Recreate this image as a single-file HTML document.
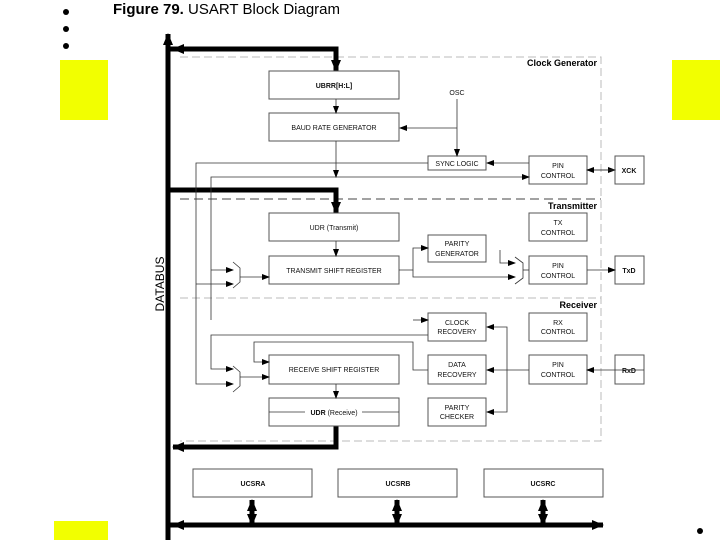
<!DOCTYPE html>
<html><head><style>body{margin:0;background:#fff}svg{display:block}text{font-family:"Liberation Sans",sans-serif}</style></head><body>
<svg width="720" height="540" viewBox="0 0 720 540" xmlns="http://www.w3.org/2000/svg">
<defs>
<marker id="a" markerWidth="8" markerHeight="8" refX="7" refY="4" orient="auto" markerUnits="userSpaceOnUse"><path d="M0,1 L8,4 L0,7z" fill="#000"/></marker>
<marker id="b" markerWidth="12" markerHeight="12" refX="11" refY="6" orient="auto" markerUnits="userSpaceOnUse"><path d="M0,1 L12,6 L0,11z" fill="#000"/></marker>
</defs>
<circle cx="66" cy="12" r="3"/><circle cx="66" cy="29" r="3"/><circle cx="66" cy="46" r="3"/><circle cx="700" cy="531" r="3"/>
<rect x="60" y="60" width="48" height="60" fill="#f2ff00"/>
<rect x="672" y="60" width="48" height="60" fill="#f2ff00"/>
<rect x="54" y="521" width="54" height="19" fill="#f2ff00"/>
<text x="113" y="14" font-size="15"><tspan font-weight="bold">Figure 79.</tspan>  USART Block Diagram</text>

<g stroke="#bbb" stroke-dasharray="8,4" fill="none">
<path d="M180,57 H601 V441 H180"/>
<path d="M180,298 H601"/>
</g>
<path d="M180,199 H601" stroke="#444" stroke-dasharray="9,5" fill="none"/>
<g font-weight="bold" font-size="9" text-anchor="end"><text x="597" y="66">Clock Generator</text><text x="597" y="209">Transmitter</text><text x="597" y="308">Receiver</text></g>

<g fill="none" stroke="#000" stroke-width="5">
<path d="M168,540 V34" marker-end="url(#b)"/>
<path d="M336,49 H173" marker-end="url(#b)"/>
<path d="M168,49 H336 V71" marker-end="url(#b)"/>
<path d="M168,190 H336 V213" marker-end="url(#b)"/>
<path d="M336,426 V447 H173" marker-end="url(#b)"/>
<path d="M168,525 H603" marker-end="url(#b)"/>
<path d="M400,525 H173" marker-end="url(#b)"/>
<path d="M252,525 V500" marker-end="url(#b)"/><path d="M252,500 V525" marker-end="url(#b)"/>
<path d="M397,525 V500" marker-end="url(#b)"/><path d="M397,500 V525" marker-end="url(#b)"/>
<path d="M543,525 V500" marker-end="url(#b)"/><path d="M543,500 V525" marker-end="url(#b)"/>
</g>
<text transform="translate(164,284) rotate(-90)" font-size="12" text-anchor="middle">DATABUS</text>

<g fill="#fff" stroke="#555" stroke-width="1">
<rect x="269" y="71" width="130" height="28"/>
<rect x="269" y="113" width="130" height="28"/>
<rect x="428" y="156" width="58" height="14"/>
<rect x="529" y="156" width="58" height="28"/>
<rect x="615" y="156" width="29" height="28"/>
<rect x="269" y="213" width="130" height="28"/>
<rect x="269" y="256" width="130" height="28"/>
<rect x="529" y="213" width="58" height="28"/>
<rect x="428" y="235" width="58" height="27"/>
<rect x="529" y="256" width="58" height="28"/>
<rect x="615" y="256" width="29" height="28"/>
<rect x="428" y="313" width="58" height="28"/>
<rect x="529" y="313" width="58" height="28"/>
<rect x="269" y="355" width="130" height="29"/>
<rect x="428" y="355" width="58" height="29"/>
<rect x="529" y="355" width="58" height="29"/>
<rect x="615" y="355" width="29" height="29"/>
<rect x="269" y="398" width="130" height="28"/>
<rect x="428" y="398" width="58" height="28"/>
<rect x="193" y="469" width="119" height="28"/>
<rect x="338" y="469" width="119" height="28"/>
<rect x="484" y="469" width="119" height="28"/>
</g>

<g fill="none" stroke="#333" stroke-width="0.8">
<path d="M336,99 V113" marker-end="url(#a)"/>
<path d="M457,99 V156" marker-end="url(#a)"/>
<path d="M457,128 H400" marker-end="url(#a)"/>
<path d="M529,163 H487" marker-end="url(#a)"/>
<path d="M428,163 H196 V384 H233" marker-end="url(#a)"/>
<path d="M196,284 H233" marker-end="url(#a)"/>
<path d="M211,320 V177 H529" marker-end="url(#a)"/>
<path d="M211,270 H233" marker-end="url(#a)"/>
<path d="M336,141 V177" marker-end="url(#a)"/>
<path d="M587,170 H615" marker-end="url(#a)"/><path d="M615,170 H587" marker-end="url(#a)"/>
<path d="M336,241 V256" marker-end="url(#a)"/>
<path d="M240,277 H269" marker-end="url(#a)"/>
<path d="M399,270 H413 V248 H428" marker-end="url(#a)"/>
<path d="M413,270 V277 H515" marker-end="url(#a)"/>
<path d="M500,250 V263 H515" marker-end="url(#a)"/>
<path d="M523,270 H529"/>
<path d="M587,270 H615" marker-end="url(#a)"/>
<path d="M428,335 H211 V369 H233" marker-end="url(#a)"/>
<path d="M413,320 H428" marker-end="url(#a)"/>
<path d="M644,370 H587" marker-end="url(#a)"/>
<path d="M529,370 H487" marker-end="url(#a)"/>
<path d="M507,370 V327 H487" marker-end="url(#a)"/>
<path d="M507,370 V412 H487" marker-end="url(#a)"/>
<path d="M428,370 H413 V342 H254 V362 H269" marker-end="url(#a)"/>
<path d="M240,377 H269" marker-end="url(#a)"/>
<path d="M336,384 V398" marker-end="url(#a)"/>
<path d="M269,412 H305 M362,412 H399"/>
<path d="M233,262 L240,268 V282 L233,288"/>
<path d="M233,366 L240,372 V386 L233,392"/>
<path d="M515,257 L523,263 V278 L515,284"/>
</g>

<g font-size="7" text-anchor="middle" fill="#111">
<text x="334" y="88" font-weight="bold">UBRR[H:L]</text>
<text x="334" y="130">BAUD RATE GENERATOR</text>
<text x="457" y="95">OSC</text>
<text x="457" y="166">SYNC LOGIC</text>
<text x="558" y="168">PIN</text><text x="558" y="178">CONTROL</text>
<text x="629" y="173" font-weight="bold">XCK</text>
<text x="334" y="230">UDR (Transmit)</text>
<text x="558" y="225">TX</text><text x="558" y="235">CONTROL</text>
<text x="457" y="246">PARITY</text><text x="457" y="256">GENERATOR</text>
<text x="334" y="273">TRANSMIT SHIFT REGISTER</text>
<text x="558" y="268">PIN</text><text x="558" y="278">CONTROL</text>
<text x="629" y="273" font-weight="bold">TxD</text>
<text x="457" y="325">CLOCK</text><text x="457" y="334">RECOVERY</text>
<text x="558" y="325">RX</text><text x="558" y="334">CONTROL</text>
<text x="334" y="372">RECEIVE SHIFT REGISTER</text>
<text x="457" y="367">DATA</text><text x="457" y="377">RECOVERY</text>
<text x="558" y="367">PIN</text><text x="558" y="377">CONTROL</text>
<text x="629" y="373" font-weight="bold">RxD</text>
<text x="334" y="415"><tspan font-weight="bold">UDR</tspan> (Receive)</text>
<text x="457" y="410">PARITY</text><text x="457" y="419">CHECKER</text>
<text x="253" y="486" font-weight="bold">UCSRA</text>
<text x="398" y="486" font-weight="bold">UCSRB</text>
<text x="543" y="486" font-weight="bold">UCSRC</text>
</g>
</svg>
</body></html>
